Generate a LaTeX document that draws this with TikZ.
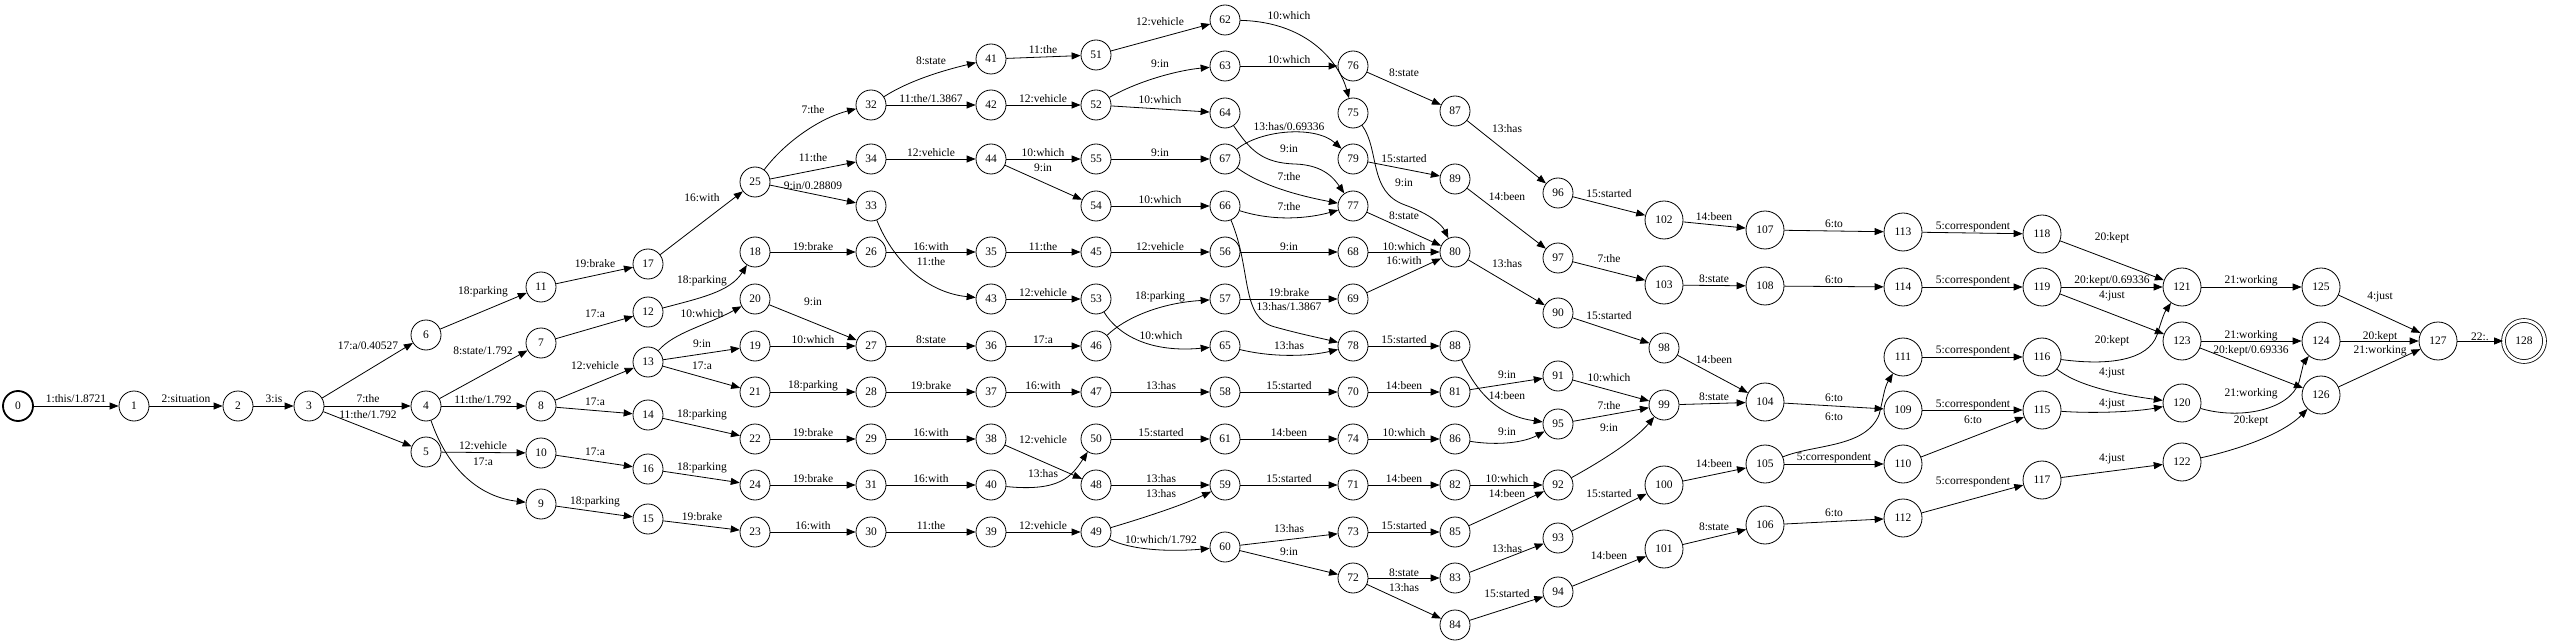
\documentclass[tikz,border=0pt]{standalone}
\usepackage{fontspec}
\setmainfont{Liberation Serif}
\usetikzlibrary{arrows.meta}
\newcommand\fsz{\fontsize{11.5}{13}\selectfont}
\newcommand\ed[5]{\draw[edge] (#1) -- (#2) node[lbl] at (#4,#5) {#3};}
\tikzset{
  st/.style={circle, draw, line width=0.8pt, minimum size=30pt, inner sep=0pt, font=\fsz},
  stb/.style={st, minimum size=38pt},
  lbl/.style={font=\fsz, inner sep=0pt},
  edge/.style={draw, line width=0.8pt, -{Triangle[length=9pt,width=7pt]}}
}
\begin{document}
\begin{tikzpicture}[x=1pt,y=-1pt]
\useasboundingbox[fill=white] (0,0) rectangle (2550,644);
% nodes
\node[st, line width=1.8pt] (n0) at (18,406) {0};
\node[st] (n1) at (134,406) {1};
\node[st] (n2) at (238,406) {2};
\node[st] (n3) at (309,406) {3};
\node[st] (n4) at (426,406) {4};
\node[st] (n5) at (426,452) {5};
\node[st] (n6) at (426,335) {6};
\node[st] (n7) at (541,343) {7};
\node[st] (n8) at (541,406) {8};
\node[st] (n9) at (541,504) {9};
\node[st] (n10) at (541,453) {10};
\node[st] (n11) at (541,287) {11};
\node[st] (n12) at (648,312) {12};
\node[st] (n13) at (648,362) {13};
\node[st] (n14) at (648,415) {14};
\node[st] (n15) at (648,519) {15};
\node[st] (n16) at (648,469) {16};
\node[st] (n17) at (648,264) {17};
\node[st] (n18) at (755,252) {18};
\node[st] (n19) at (755,346) {19};
\node[st] (n20) at (755,299) {20};
\node[st] (n21) at (755,392) {21};
\node[st] (n22) at (755,439) {22};
\node[st] (n23) at (755,532) {23};
\node[st] (n24) at (755,485) {24};
\node[st] (n25) at (755,182) {25};
\node[st] (n26) at (871,252) {26};
\node[st] (n27) at (871,346) {27};
\node[st] (n28) at (871,392) {28};
\node[st] (n29) at (871,439) {29};
\node[st] (n30) at (871,532) {30};
\node[st] (n31) at (871,485) {31};
\node[st] (n32) at (871,105) {32};
\node[st] (n33) at (871,206) {33};
\node[st] (n34) at (871,159) {34};
\node[st] (n35) at (991,252) {35};
\node[st] (n36) at (991,346) {36};
\node[st] (n37) at (991,392) {37};
\node[st] (n38) at (991,439) {38};
\node[st] (n39) at (991,532) {39};
\node[st] (n40) at (991,485) {40};
\node[st] (n41) at (991,59) {41};
\node[st] (n42) at (991,105) {42};
\node[st] (n43) at (991,299) {43};
\node[st] (n44) at (991,159) {44};
\node[st] (n45) at (1096,252) {45};
\node[st] (n46) at (1096,346) {46};
\node[st] (n47) at (1096,392) {47};
\node[st] (n48) at (1096,485) {48};
\node[st] (n49) at (1096,532) {49};
\node[st] (n50) at (1096,439) {50};
\node[st] (n51) at (1096,55) {51};
\node[st] (n52) at (1096,105) {52};
\node[st] (n53) at (1096,299) {53};
\node[st] (n54) at (1096,206) {54};
\node[st] (n55) at (1096,159) {55};
\node[st] (n56) at (1225,252) {56};
\node[st] (n57) at (1225,299) {57};
\node[st] (n58) at (1225,392) {58};
\node[st] (n59) at (1225,485) {59};
\node[st] (n60) at (1225,547) {60};
\node[st] (n61) at (1225,439) {61};
\node[st] (n62) at (1225,20) {62};
\node[st] (n63) at (1225,66) {63};
\node[st] (n64) at (1225,113) {64};
\node[st] (n65) at (1225,346) {65};
\node[st] (n66) at (1225,206) {66};
\node[st] (n67) at (1225,159) {67};
\node[st] (n68) at (1353,252) {68};
\node[st] (n69) at (1353,299) {69};
\node[st] (n70) at (1353,392) {70};
\node[st] (n71) at (1353,485) {71};
\node[st] (n72) at (1353,578) {72};
\node[st] (n73) at (1353,532) {73};
\node[st] (n74) at (1353,439) {74};
\node[st] (n75) at (1353,113) {75};
\node[st] (n76) at (1353,66) {76};
\node[st] (n77) at (1353,206) {77};
\node[st] (n78) at (1353,346) {78};
\node[st] (n79) at (1353,159) {79};
\node[st] (n80) at (1455,252) {80};
\node[st] (n81) at (1455,392) {81};
\node[st] (n82) at (1455,485) {82};
\node[st] (n83) at (1455,578) {83};
\node[st] (n84) at (1455,625) {84};
\node[st] (n85) at (1455,532) {85};
\node[st] (n86) at (1455,439) {86};
\node[st] (n87) at (1455,111) {87};
\node[st] (n88) at (1455,346) {88};
\node[st] (n89) at (1455,179) {89};
\node[st] (n90) at (1558,313) {90};
\node[st] (n91) at (1558,376) {91};
\node[st] (n92) at (1558,485) {92};
\node[st] (n93) at (1558,538) {93};
\node[st] (n94) at (1558,592) {94};
\node[st] (n95) at (1558,424) {95};
\node[st] (n96) at (1558,193) {96};
\node[st] (n97) at (1558,258) {97};
\node[st] (n98) at (1664,348) {98};
\node[st] (n99) at (1664,405) {99};
\node[stb] (n100) at (1664,485) {100};
\node[stb] (n101) at (1664,549) {101};
\node[stb] (n102) at (1664,220) {102};
\node[stb] (n103) at (1664,285) {103};
\node[stb] (n104) at (1765,402) {104};
\node[stb] (n105) at (1765,464) {105};
\node[stb] (n106) at (1765,525) {106};
\node[stb] (n107) at (1765,230) {107};
\node[stb] (n108) at (1765,286) {108};
\node[stb] (n109) at (1903,410) {109};
\node[stb] (n110) at (1903,464) {110};
\node[stb] (n111) at (1903,357) {111};
\node[stb] (n112) at (1903,518) {112};
\node[stb] (n113) at (1903,232) {113};
\node[stb] (n114) at (1903,287) {114};
\node[stb] (n115) at (2042,410) {115};
\node[stb] (n116) at (2042,357) {116};
\node[stb] (n117) at (2042,480) {117};
\node[stb] (n118) at (2042,234) {118};
\node[stb] (n119) at (2042,287) {119};
\node[stb] (n120) at (2182,403) {120};
\node[stb] (n121) at (2182,287) {121};
\node[stb] (n122) at (2182,462) {122};
\node[stb] (n123) at (2182,341) {123};
\node[stb] (n124) at (2321,341) {124};
\node[stb] (n125) at (2321,287) {125};
\node[stb] (n126) at (2321,395) {126};
\node[stb] (n127) at (2438,341) {127};
\node[stb, minimum size=41pt, double, double distance=3pt] (n128) at (2524,341) {128};
% edges
\ed{n0}{n1}{1:this/1.8721}{76}{399}
\ed{n1}{n2}{2:situation}{186}{399}
\ed{n2}{n3}{3:is}{274}{399}
\ed{n3}{n6}{17:a/0.40527}{368}{346}
\ed{n3}{n4}{7:the}{368}{399}
\ed{n3}{n5}{11:the/1.792}{368}{415}
\ed{n6}{n11}{18:parking}{483}{292}
\ed{n4}{n7}{8:state/1.792}{483}{351}
\ed{n4}{n8}{11:the/1.792}{483}{400}
\ed{n5}{n10}{12:vehicle}{483}{446}
\draw[edge] (n4) .. controls (448,470) and (480,497) .. (n9) node[lbl] at (483,462) {17:a};
\ed{n11}{n17}{19:brake}{595}{264}
\ed{n7}{n12}{17:a}{595}{314}
\ed{n8}{n13}{12:vehicle}{595}{366}
\ed{n8}{n14}{17:a}{595}{402}
\ed{n10}{n16}{17:a}{595}{452}
\ed{n9}{n15}{18:parking}{595}{502}
\ed{n17}{n25}{16:with}{702}{198}
\draw[edge] (n12) .. controls (700,298) and (730,292) .. (n18) node[lbl] at (702,281) {18:parking};
\draw[edge] (n13) .. controls (675,332) and (705,326) .. (n20) node[lbl] at (702,314) {10:which};
\ed{n13}{n19}{9:in}{702}{344}
\ed{n13}{n21}{17:a}{702}{366}
\ed{n14}{n22}{18:parking}{702}{415}
\ed{n16}{n24}{18:parking}{702}{468}
\ed{n15}{n23}{19:brake}{702}{517}
\draw[edge] (n25) .. controls (785,142) and (820,118) .. (n32) node[lbl] at (813,110) {7:the};
\ed{n25}{n34}{11:the}{813}{158}
\ed{n25}{n33}{9:in/0.28809}{813}{186}
\ed{n18}{n26}{19:brake}{813}{247}
\ed{n20}{n27}{9:in}{813}{302}
\ed{n19}{n27}{10:which}{813}{340}
\ed{n21}{n28}{18:parking}{813}{386}
\ed{n22}{n29}{19:brake}{813}{433}
\ed{n24}{n31}{19:brake}{813}{479}
\ed{n23}{n30}{16:with}{813}{526}
\draw[edge] (n32) .. controls (910,80) and (945,70) .. (n41) node[lbl] at (931,61) {8:state};
\ed{n32}{n42}{11:the/1.3867}{931}{99}
\ed{n34}{n44}{12:vehicle}{931}{153}
\ed{n26}{n35}{16:with}{931}{247}
\draw[edge] (n33) .. controls (895,265) and (930,293) .. (n43) node[lbl] at (931,262) {11:the};
\ed{n27}{n36}{8:state}{931}{340}
\ed{n28}{n37}{19:brake}{931}{386}
\ed{n29}{n38}{16:with}{931}{433}
\ed{n31}{n40}{16:with}{931}{479}
\ed{n30}{n39}{11:the}{931}{526}
\ed{n41}{n51}{11:the}{1043}{50}
\ed{n42}{n52}{12:vehicle}{1043}{99}
\ed{n44}{n55}{10:which}{1043}{153}
\ed{n44}{n54}{9:in}{1043}{168}
\ed{n35}{n45}{11:the}{1043}{247}
\ed{n43}{n53}{12:vehicle}{1043}{293}
\ed{n36}{n46}{17:a}{1043}{340}
\ed{n37}{n47}{16:with}{1043}{386}
\ed{n38}{n48}{12:vehicle}{1043}{440}
\draw[edge] (n40) .. controls (1060,492) and (1072,476) .. (n50) node[lbl] at (1043,474) {13:has};
\ed{n39}{n49}{12:vehicle}{1043}{526}
\ed{n51}{n62}{12:vehicle}{1160}{22}
\draw[edge] (n52) .. controls (1140,80) and (1180,70) .. (n63) node[lbl] at (1160,64) {9:in};
\ed{n52}{n64}{10:which}{1160}{100}
\ed{n55}{n67}{9:in}{1160}{153}
\ed{n54}{n66}{10:which}{1160}{200}
\ed{n45}{n56}{12:vehicle}{1160}{247}
\draw[edge] (n46) .. controls (1125,318) and (1160,303) .. (n57) node[lbl] at (1160,297) {18:parking};
\draw[edge] (n53) .. controls (1118,335) and (1150,353) .. (n65) node[lbl] at (1161,336) {10:which};
\ed{n47}{n58}{13:has}{1161}{386}
\ed{n50}{n61}{15:started}{1161}{433}
\ed{n48}{n59}{13:has}{1161}{479}
\draw[edge] (n49) .. controls (1150,516) and (1185,504) .. (n59) node[lbl] at (1161,494) {13:has};
\draw[edge] (n49) .. controls (1130,550) and (1170,552) .. (n60) node[lbl] at (1161,540) {10:which/1.792};
\draw[edge] (n62) .. controls (1310,22) and (1340,65) .. (n75) node[lbl] at (1289,16) {10:which};
\ed{n63}{n76}{10:which}{1289}{60}
\draw[edge] (n64) .. controls (1250,150) and (1262,163) .. (1295,164) .. controls (1325,165) and (1335,180) .. (n77) node[lbl] at (1289,149) {9:in};
\draw[edge] (n67) .. controls (1260,130) and (1315,125) .. (n79) node[lbl] at (1289,127) {13:has/0.69336};
\draw[edge] (n67) .. controls (1262,186) and (1300,196) .. (n77) node[lbl] at (1289,177) {7:the};
\draw[edge] (n66) .. controls (1275,222) and (1310,218) .. (n77) node[lbl] at (1289,207) {7:the};
\ed{n56}{n68}{9:in}{1289}{247}
\ed{n57}{n69}{19:brake}{1289}{293}
\draw[edge] (n66) .. controls (1252,270) and (1240,318) .. (1275,327) .. controls (1300,334) and (1320,338) .. (n78) node[lbl] at (1289,307) {13:has/1.3867};
\draw[edge] (n65) .. controls (1275,358) and (1310,356) .. (n78) node[lbl] at (1289,346) {13:has};
\ed{n58}{n70}{15:started}{1289}{386}
\ed{n61}{n74}{14:been}{1289}{433}
\ed{n59}{n71}{15:started}{1289}{479}
\ed{n60}{n73}{13:has}{1289}{529}
\ed{n60}{n72}{9:in}{1289}{552}
\ed{n76}{n87}{8:state}{1404}{73}
\ed{n79}{n89}{15:started}{1404}{159}
\draw[edge] (n75) .. controls (1380,150) and (1368,192) .. (1405,205) .. controls (1430,214) and (1442,225) .. (n80) node[lbl] at (1404,183) {9:in};
\ed{n77}{n80}{8:state}{1404}{216}
\ed{n68}{n80}{10:which}{1404}{247}
\ed{n69}{n80}{16:with}{1404}{261}
\ed{n78}{n88}{15:started}{1404}{340}
\ed{n70}{n81}{14:been}{1404}{386}
\ed{n74}{n86}{10:which}{1404}{433}
\ed{n71}{n82}{14:been}{1404}{479}
\ed{n73}{n85}{15:started}{1404}{526}
\ed{n72}{n83}{8:state}{1404}{573}
\ed{n72}{n84}{13:has}{1404}{588}
\ed{n87}{n96}{13:has}{1507}{129}
\ed{n89}{n97}{14:been}{1507}{197}
\ed{n80}{n90}{13:has}{1507}{264}
\ed{n81}{n91}{9:in}{1507}{375}
\draw[edge] (n88) .. controls (1478,395) and (1500,416) .. (n95) node[lbl] at (1507,396) {14:been};
\draw[edge] (n86) .. controls (1500,446) and (1525,442) .. (n95) node[lbl] at (1507,432) {9:in};
\ed{n82}{n92}{10:which}{1507}{479}
\ed{n85}{n92}{14:been}{1507}{494}
\ed{n83}{n93}{13:has}{1507}{549}
\ed{n84}{n94}{15:started}{1507}{594}
\ed{n96}{n102}{15:started}{1609}{194}
\ed{n97}{n103}{7:the}{1609}{259}
\ed{n90}{n98}{15:started}{1609}{316}
\ed{n91}{n99}{10:which}{1609}{378}
\ed{n95}{n99}{7:the}{1609}{406}
\draw[edge] (n92) .. controls (1600,462) and (1635,440) .. (n99) node[lbl] at (1609,428) {9:in};
\ed{n93}{n100}{15:started}{1609}{494}
\ed{n94}{n101}{14:been}{1609}{556}
\ed{n102}{n107}{14:been}{1714}{217}
\ed{n103}{n108}{8:state}{1714}{279}
\ed{n98}{n104}{14:been}{1714}{360}
\ed{n99}{n104}{8:state}{1714}{397}
\ed{n100}{n105}{14:been}{1714}{464}
\ed{n101}{n106}{8:state}{1714}{527}
\ed{n107}{n113}{6:to}{1834}{224}
\ed{n108}{n114}{6:to}{1834}{280}
\ed{n104}{n109}{6:to}{1834}{398}
\draw[edge] (n105) .. controls (1815,444) and (1865,448) .. (1879,415) .. controls (1883,400) and (1884,388) .. (n111) node[lbl] at (1834,417) {6:to};
\ed{n105}{n110}{5:correspondent}{1834}{458}
\ed{n106}{n112}{6:to}{1834}{513}
\ed{n113}{n118}{5:correspondent}{1973}{227}
\ed{n114}{n119}{5:correspondent}{1973}{281}
\ed{n111}{n116}{5:correspondent}{1973}{351}
\ed{n109}{n115}{5:correspondent}{1973}{405}
\ed{n110}{n115}{6:to}{1973}{420}
\ed{n112}{n117}{5:correspondent}{1973}{482}
\ed{n118}{n121}{20:kept}{2112}{238}
\ed{n119}{n121}{20:kept/0.69336}{2112}{281}
\ed{n119}{n123}{4:just}{2112}{296}
\draw[edge] (n116) .. controls (2110,366) and (2148,360) .. (2157,335) .. controls (2161,322) and (2164,313) .. (n121) node[lbl] at (2112,341) {20:kept};
\draw[edge] (n116) .. controls (2080,388) and (2130,396) .. (n120) node[lbl] at (2112,373) {4:just};
\draw[edge] (n115) .. controls (2100,414) and (2140,411) .. (n120) node[lbl] at (2112,404) {4:just};
\ed{n117}{n122}{4:just}{2112}{459}
\ed{n121}{n125}{21:working}{2251}{281}
\ed{n123}{n124}{21:working}{2251}{336}
\ed{n123}{n126}{20:kept/0.69336}{2251}{351}
\draw[edge] (n120) .. controls (2240,420) and (2290,410) .. (2299,382) .. controls (2302,370) and (2304,362) .. (n124) node[lbl] at (2251,394) {21:working};
\draw[edge] (n122) .. controls (2245,448) and (2285,432) .. (n126) node[lbl] at (2251,421) {20:kept};
\ed{n125}{n127}{4:just}{2380}{297}
\ed{n124}{n127}{20:kept}{2380}{337}
\ed{n126}{n127}{21:working}{2380}{351}
\ed{n127}{n128}{22:.}{2480}{337}
\end{tikzpicture}
\end{document}
